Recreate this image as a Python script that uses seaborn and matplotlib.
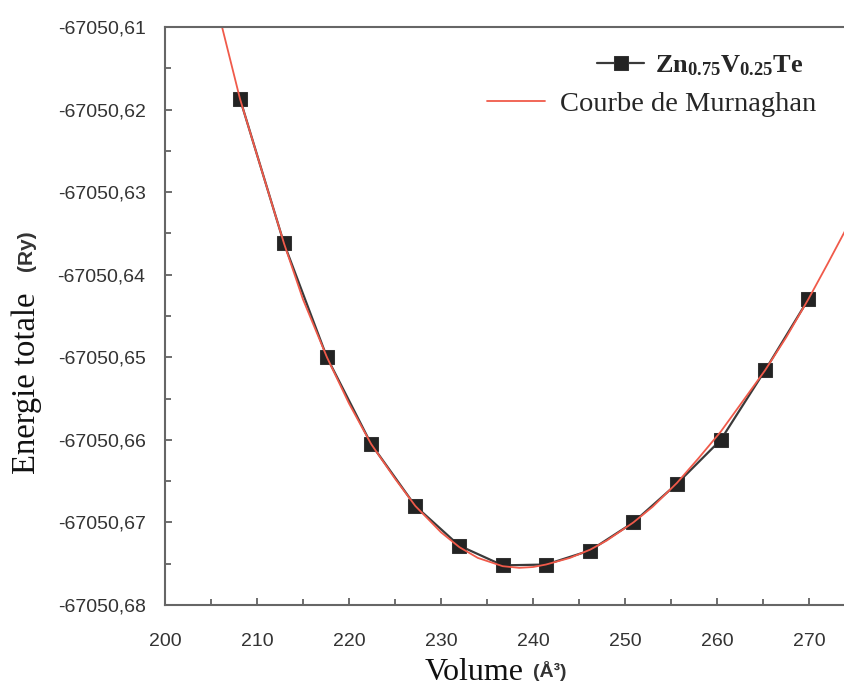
import numpy as np
import pandas as pd
import matplotlib
matplotlib.use("Agg")
import matplotlib.pyplot as plt
import seaborn as sns
from matplotlib.ticker import MultipleLocator, FuncFormatter

# ---- data ----
volume = [208.15, 212.93, 217.6, 222.4, 227.2, 231.96, 236.7, 241.4,
          246.2, 250.9, 255.65, 260.4, 265.2, 269.9]
energy = [-67050.6187, -67050.6362, -67050.6500, -67050.6605, -67050.6680,
          -67050.6728, -67050.6752, -67050.6751, -67050.6734, -67050.6700,
          -67050.6653, -67050.6600, -67050.6516, -67050.6430]

fit_volume = [206.2, 208.15, 210.0, 212.93, 215.0, 217.6, 220.0, 222.4, 225.0,
              227.2, 230.0, 232.0, 234.0, 236.7, 238.5, 240.0, 241.4, 244.0,
              246.2, 248.0, 250.9, 253.0, 255.65, 258.0, 260.4, 263.0, 265.2,
              267.5, 269.9, 272.0, 274.0]
fit_energy = [-67050.6100, -67050.6187, -67050.6255, -67050.6362, -67050.6430,
              -67050.6500, -67050.6556, -67050.6605, -67050.6647, -67050.6680,
              -67050.6712, -67050.6730, -67050.6743, -67050.6753, -67050.6755,
              -67050.6754, -67050.6751, -67050.6743, -67050.6733, -67050.6722,
              -67050.6700, -67050.6681, -67050.6652, -67050.6622, -67050.6590,
              -67050.6550, -67050.6516, -67050.6476, -67050.6430, -67050.6387,
              -67050.6345]

xticks = [200, 210, 220, 230, 240, 250, 260, 270]
yticks = [-67050.68, -67050.67, -67050.66, -67050.65, -67050.64,
          -67050.63, -67050.62, -67050.61]

series_label = r"$\mathbf{Zn_{0.75}V_{0.25}Te}$"
fit_label = "Courbe de Murnaghan"

df_pts = pd.DataFrame({"Volume": volume, "Energie": energy})
df_fit = pd.DataFrame({"Volume": fit_volume, "Energie": fit_energy})

sns.set_style("ticks")
plt.rcParams["font.family"] = ["Liberation Sans", "DejaVu Sans"]
plt.rcParams["mathtext.fontset"] = "custom"
plt.rcParams["mathtext.rm"] = "Liberation Serif"
plt.rcParams["mathtext.bf"] = "Liberation Serif:bold"

fig = plt.figure(figsize=(8.45, 6.9), dpi=100)
ax = fig.add_axes([165 / 845, 1 - 605 / 690, 1 - 165 / 845, (605 - 27) / 690])

sns.lineplot(data=df_pts, x="Volume", y="Energie", ax=ax, color="#3a3a3a",
             lw=1.6, marker="s", markersize=9.5, markerfacecolor="#232323",
             markeredgecolor="#333333", sort=False, estimator=None,
             label=series_label, legend=False)
sns.lineplot(data=df_fit, x="Volume", y="Energie", ax=ax, color="#f05a4a",
             lw=1.3, sort=False, estimator=None, label=fit_label, legend=False)

ax.set_xlim(200, 273.9)
ax.set_ylim(-67050.68, -67050.61)
ax.set_xticks(xticks)
ax.set_yticks(yticks)
ax.xaxis.set_minor_locator(MultipleLocator(5))
ax.yaxis.set_minor_locator(MultipleLocator(0.005))
ax.yaxis.set_major_formatter(FuncFormatter(lambda v, p: f"{v:.2f}".replace(".", ",")))
ax.tick_params(which="both", direction="in", color="#555555", width=1.2,
               labelsize=14, labelcolor="#333333")
ax.tick_params(which="major", length=5)
ax.tick_params(axis="y", which="major", pad=14)
ax.tick_params(axis="x", which="major", pad=20)
ax.tick_params(which="minor", length=4)
for s in ["left", "bottom", "top"]:
    ax.spines[s].set_color("#666666")
    ax.spines[s].set_linewidth(1.5)
ax.spines["right"].set_visible(False)
ax.set_xlabel("")
ax.set_ylabel("")

# axis labels (serif text + sans units, as in the reference)
fig.text(425 / 845, 1 - 672 / 690, "Volume", family="Liberation Serif",
         fontsize=23, ha="left", va="center", color="#111111")
fig.text(533 / 845, 1 - 671 / 690, "(Å³)", family="Liberation Sans",
         fontsize=14, fontweight="bold", ha="left", va="center", color="#333333")
fig.text(27 / 845, 1 - 383 / 690, "Energie totale", family="Liberation Serif",
         fontsize=23.5, rotation=90, ha="center", va="center", color="#111111")
fig.text(27 / 845, 1 - 251 / 690, "(Ry)", family="Liberation Sans",
         fontsize=15, fontweight="bold", rotation=90, ha="center", va="center",
         color="#333333")

handles = ax.get_lines()
leg1 = ax.legend([handles[0]], [series_label], loc="center left",
                 bbox_to_anchor=(597 / 845, 1 - 66 / 690),
                 bbox_transform=fig.transFigure, frameon=False,
                 handlelength=1.8, handletextpad=0.38, fontsize=19,
                 borderpad=0, borderaxespad=0)
ax.add_artist(leg1)
leg2 = ax.legend([handles[1]], [fit_label], loc="center left",
                 bbox_to_anchor=(487 / 845, 1 - 104 / 690),
                 bbox_transform=fig.transFigure, frameon=False,
                 handlelength=2.04, handletextpad=0.53,
                 prop={"family": "Liberation Serif", "size": 20.5},
                 borderpad=0, borderaxespad=0)

fig.savefig("out.png", dpi=100)
